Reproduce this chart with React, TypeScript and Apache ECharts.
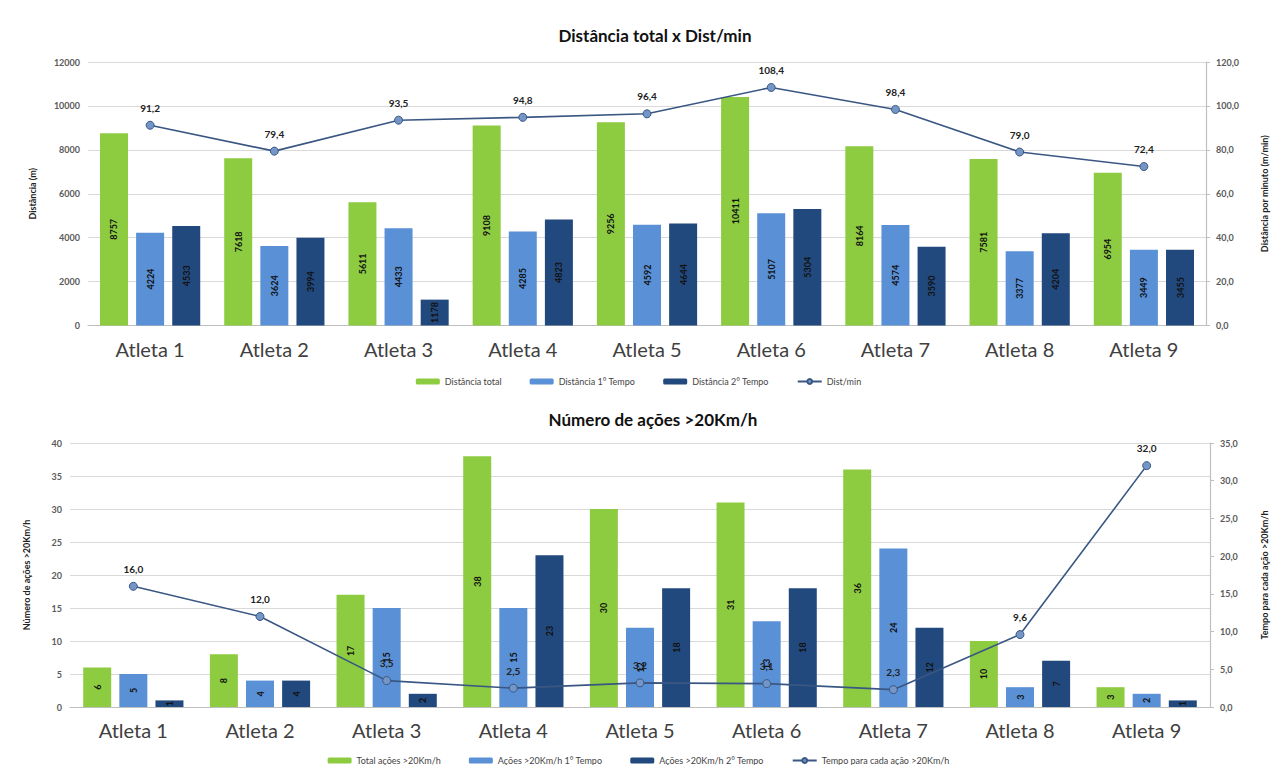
import React, { useEffect, useRef } from "react";
import * as echarts from "echarts";

const atletas = ["Atleta 1", "Atleta 2", "Atleta 3", "Atleta 4", "Atleta 5", "Atleta 6", "Atleta 7", "Atleta 8", "Atleta 9"];

// Distância (m)
const distTotal = [8757, 7618, 5611, 9108, 9256, 10411, 8164, 7581, 6954];
const dist1Tempo = [4224, 3624, 4433, 4285, 4592, 5107, 4574, 3377, 3449];
const dist2Tempo = [4533, 3994, 1178, 4823, 4644, 5304, 3590, 4204, 3455];
// Distância por minuto (m/min)
const distPorMin = [91.2, 79.4, 93.5, 94.8, 96.4, 108.4, 98.4, 79.0, 72.4];

// Ações >20Km/h
const acoesTotal = [6, 8, 17, 38, 30, 31, 36, 10, 3];
const acoes1Tempo = [5, 4, 15, 15, 12, 13, 24, 3, 2];
const acoes2Tempo = [1, 4, 2, 23, 18, 18, 12, 7, 1];
// Tempo para cada ação >20Km/h
const tempoPorAcao = [16.0, 12.0, 3.5, 2.5, 3.2, 3.1, 2.3, 9.6, 32.0];

const GREEN = "#8DCB41";
const LIGHT = "#5990D6";
const DARK = "#22497D";
const LINE = "#3A5783";
const MARK = "#7396C6";
const FONT = "Lato, 'Noto Sans', sans-serif";

const comma = (v: number) => v.toFixed(1).replace(".", ",");

const barLabel = {
  show: true,
  position: "inside",
  rotate: 90,
  fontSize: 9,
  fontWeight: "bold",
  color: "#111",
  fontFamily: FONT,
};

const lineLabel = {
  show: true,
  position: "top",
  distance: 8,
  fontSize: 10,
  fontWeight: "bold",
  color: "#222",
  fontFamily: FONT,
  formatter: (p: any) => comma(p.value),
};

const tickLabel = { fontSize: 9, fontWeight: "bold", color: "#5a5a5a", fontFamily: FONT };
const axisName = { fontSize: 9, fontWeight: "bold", color: "#222", fontFamily: FONT };
const gridLine = { show: true, lineStyle: { color: "#D9D9D9", width: 1.2 } };

export default function App() {
  const ref = useRef<HTMLDivElement>(null);

  useEffect(() => {
    if (!ref.current) return;
    const chart = echarts.init(ref.current, null, { renderer: "svg" });

    const xAxisBase = {
      type: "category",
      data: atletas,
      axisTick: { show: false },
      axisLine: { lineStyle: { color: "#BFBFBF", width: 1.2 } },
      axisLabel: { fontSize: 20, color: "#404040", fontFamily: FONT, margin: 13 },
    };

    const lineSeries = (name: string, data: number[], x: number, y: number) => ({
      name,
      type: "line",
      xAxisIndex: x,
      yAxisIndex: y,
      data,
      symbol: "circle",
      symbolSize: 8,
      lineStyle: { color: LINE, width: 1.6 },
      itemStyle: { color: MARK, borderColor: LINE, borderWidth: 1 },
      label: lineLabel,
      z: 5,
    });

    const barSeries = (name: string, data: number[], color: string, x: number) => ({
      name,
      type: "bar",
      xAxisIndex: x,
      yAxisIndex: x * 2,
      data,
      barWidth: 28,
      barGap: "29%",
      itemStyle: { color },
      label: barLabel,
    });

    chart.setOption({
      animation: false,
      backgroundColor: "#ffffff",
      textStyle: { fontFamily: FONT },
      title: [
        {
          text: "Distância total x Dist/min",
          left: 650,
          top: 22,
          textAlign: "center",
          textStyle: { fontSize: 17, fontWeight: "bold", color: "#111", fontFamily: FONT },
        },
        {
          text: "Número de ações >20Km/h",
          left: 648,
          top: 406,
          textAlign: "center",
          textStyle: { fontSize: 17, fontWeight: "bold", color: "#111", fontFamily: FONT },
        },
      ],
      legend: [
        {
          top: 372,
          left: "center",
          itemWidth: 24,
          itemHeight: 6,
          itemGap: 28,
          textStyle: { fontSize: 9, color: "#444", fontFamily: FONT },
          data: ["Distância total", "Distância 1° Tempo", "Distância 2° Tempo", "Dist/min"],
        },
        {
          top: 751,
          left: "center",
          itemWidth: 24,
          itemHeight: 6,
          itemGap: 28,
          textStyle: { fontSize: 9, color: "#444", fontFamily: FONT },
          data: ["Total ações >20Km/h", "Ações >20Km/h 1° Tempo", "Ações >20Km/h 2° Tempo", "Tempo para cada ação >20Km/h"],
        },
      ],
      grid: [
        { left: 88, right: 65, top: 62, height: 263.5 },
        { left: 70, right: 60, top: 443, height: 264 },
      ],
      xAxis: [
        { ...xAxisBase, gridIndex: 0 },
        { ...xAxisBase, gridIndex: 1 },
      ],
      yAxis: [
        {
          type: "value",
          gridIndex: 0,
          min: 0,
          max: 12000,
          interval: 2000,
          name: "Distância (m)",
          nameLocation: "middle",
          nameRotate: 90,
          nameGap: 51,
          nameTextStyle: axisName,
          axisLabel: { ...tickLabel, formatter: (v: number) => String(v) },
          axisLine: { show: false },
          axisTick: { show: false },
          splitLine: gridLine,
        },
        {
          type: "value",
          gridIndex: 0,
          position: "right",
          min: 0,
          max: 120,
          interval: 20,
          name: "Distância por minuto (m/min)",
          nameLocation: "middle",
          nameRotate: 90,
          nameGap: 54,
          nameTextStyle: axisName,
          axisLabel: { ...tickLabel, formatter: comma, margin: 10 },
          axisLine: { show: true, lineStyle: { color: "#BFBFBF", width: 1.2 } },
          axisTick: { show: true, length: 4, lineStyle: { color: "#BFBFBF" } },
          splitLine: { show: false },
        },
        {
          type: "value",
          gridIndex: 1,
          min: 0,
          max: 40,
          interval: 5,
          name: "Número de ações >20Km/h",
          nameLocation: "middle",
          nameRotate: 90,
          nameGap: 39,
          nameTextStyle: axisName,
          axisLabel: tickLabel,
          axisLine: { show: false },
          axisTick: { show: false },
          splitLine: gridLine,
        },
        {
          type: "value",
          gridIndex: 1,
          position: "right",
          min: 0,
          max: 35,
          interval: 5,
          name: "Tempo para cada ação >20Km/h",
          nameLocation: "middle",
          nameRotate: 90,
          nameGap: 50,
          nameTextStyle: axisName,
          axisLabel: { ...tickLabel, formatter: comma, margin: 10 },
          axisLine: { show: true, lineStyle: { color: "#BFBFBF", width: 1.2 } },
          axisTick: { show: true, length: 4, lineStyle: { color: "#BFBFBF" } },
          splitLine: { show: false },
        },
      ],
      series: [
        barSeries("Distância total", distTotal, GREEN, 0),
        barSeries("Distância 1° Tempo", dist1Tempo, LIGHT, 0),
        barSeries("Distância 2° Tempo", dist2Tempo, DARK, 0),
        lineSeries("Dist/min", distPorMin, 0, 1),
        barSeries("Total ações >20Km/h", acoesTotal, GREEN, 1),
        barSeries("Ações >20Km/h 1° Tempo", acoes1Tempo, LIGHT, 1),
        barSeries("Ações >20Km/h 2° Tempo", acoes2Tempo, DARK, 1),
        lineSeries("Tempo para cada ação >20Km/h", tempoPorAcao, 1, 3),
      ],
    });

    return () => chart.dispose();
  }, []);

  return (
    <div
      ref={ref}
      style={{ position: "fixed", left: 0, top: 0, width: 1277, height: 765, background: "#fff" }}
    />
  );
}
